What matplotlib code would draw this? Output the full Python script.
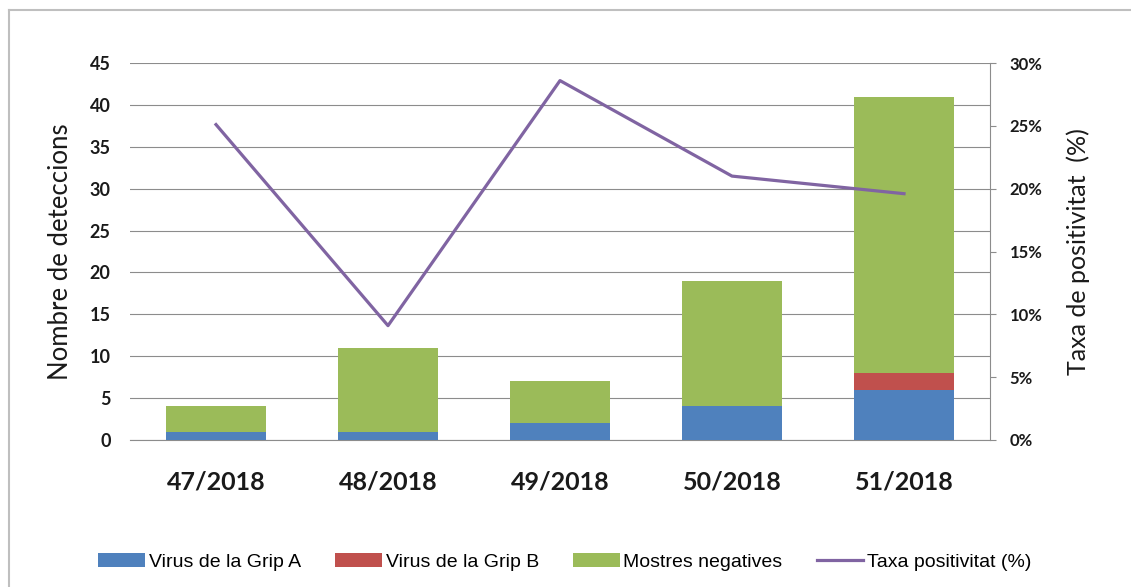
import matplotlib
matplotlib.use("Agg")
import matplotlib.pyplot as plt
from matplotlib.lines import Line2D
from matplotlib.patches import Patch
import numpy as np

weeks = ["47/2018", "48/2018", "49/2018", "50/2018", "51/2018"]
grip_a = [1, 1, 2, 4, 6]
grip_b = [0, 0, 0, 0, 2]
negatives = [3, 10, 5, 15, 33]
positivity = [0.251, 0.091, 0.286, 0.210, 0.196]

left_ticks = [0, 5, 10, 15, 20, 25, 30, 35, 40, 45]
right_ticks = [0, 0.05, 0.10, 0.15, 0.20, 0.25, 0.30]
right_labels = ["0%", "5%", "10%", "15%", "20%", "25%", "30%"]

c_a = "#4F81BD"
c_b = "#C0504D"
c_neg = "#9BBB59"
c_line = "#8064A2"

FONT = ["Lato", "DejaVu Sans"]
plt.rcParams["font.family"] = FONT

fig = plt.figure(figsize=(11.31, 5.87), dpi=100)
W, H = 1131, 587
ax = fig.add_axes([130 / W, 1 - 440 / H, 860 / W, 377 / H])

x = np.arange(len(weeks))
bw = 0.58
ax.bar(x, grip_a, bw, color=c_a, zorder=3)
ax.bar(x, grip_b, bw, bottom=grip_a, color=c_b, zorder=3)
bottom2 = [a + b for a, b in zip(grip_a, grip_b)]
ax.bar(x, negatives, bw, bottom=bottom2, color=c_neg, zorder=3)

ax.set_xlim(-0.5, len(weeks) - 0.5)
ax.set_ylim(0, 45)
ax.set_yticks(left_ticks)
ax.yaxis.grid(True, color="#8C8C8C", linewidth=0.8, zorder=0)
ax.set_axisbelow(True)
for s in ["top", "right", "left"]:
    ax.spines[s].set_visible(False)
ax.spines["bottom"].set_color("#8C8C8C")
ax.spines["bottom"].set_linewidth(0.8)
ax.set_xticks(x)
ax.set_xticklabels(weeks, fontsize=18, fontweight="bold", color="#1a1a1a")
ax.tick_params(axis="x", length=0, pad=22)
ax.tick_params(axis="y", length=0, pad=14, labelsize=13, labelcolor="#1a1a1a")
for t in ax.get_yticklabels():
    t.set_fontweight("bold")
ax.set_ylabel("Nombre de deteccions", fontsize=18.5, color="#1a1a1a")
ax.yaxis.set_label_coords(-0.066, 0.5)

ax2 = ax.twinx()
ax2.plot(x, positivity, color=c_line, linewidth=2.3, zorder=5)
ax2.set_ylim(0, 0.30)
ax2.set_yticks(right_ticks)
ax2.set_yticklabels(right_labels, fontsize=12, fontweight="bold", color="#1a1a1a")
for s in ["top", "left", "bottom"]:
    ax2.spines[s].set_visible(False)
ax2.spines["right"].set_color("#8C8C8C")
ax2.spines["right"].set_linewidth(0.8)
ax2.tick_params(axis="y", direction="out", length=4, width=0.8, color="#8C8C8C", pad=10)
ax2.set_ylabel("Taxa de positivitat  (%)", fontsize=18, color="#1a1a1a")
ax2.yaxis.set_label_coords(1.089, 0.5)

handles = [
    Patch(facecolor=c_a, label="Virus de la Grip A"),
    Patch(facecolor=c_b, label="Virus de la Grip B"),
    Patch(facecolor=c_neg, label="Mostres negatives"),
    Line2D([0], [0], color=c_line, linewidth=2.3, label="Taxa positivitat (%)"),
]
fig.legend(handles=handles, loc="center", bbox_to_anchor=(0.4995, 1 - 562 / H), ncol=4,
           frameon=False, prop={"family": ["Liberation Sans", "DejaVu Sans"], "size": 14},
           handlelength=2.4, handleheight=0.7, handletextpad=0.2, columnspacing=1.75)

# outer chart border (extends past the right and bottom edges)
bc = "#BFBFBF"
fig.add_artist(Line2D([8.5 / W, 8.5 / W], [1 - 9.5 / H, 0], transform=fig.transFigure, color=bc, linewidth=1.5))
fig.add_artist(Line2D([8.5 / W, 1], [1 - 9.5 / H, 1 - 9.5 / H], transform=fig.transFigure, color=bc, linewidth=1.5))

fig.savefig("out.png", dpi=100)
